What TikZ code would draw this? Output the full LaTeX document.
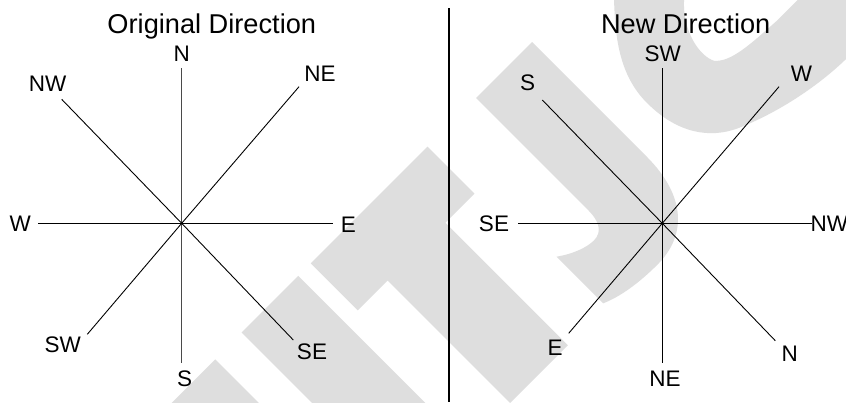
\documentclass[tikz,border=0pt]{standalone}
\usepackage{fontspec}
\setmainfont{Liberation Sans}
\definecolor{wmgrey}{HTML}{DEDEDE}
\definecolor{axisgrey}{HTML}{4A4A4A}
\begin{document}
\begin{tikzpicture}[x=1pt,y=-1pt,
  lbl/.style={font=\fontsize{22.5}{27}\selectfont, inner sep=0pt, anchor=base},
  ttl/.style={font=\fontsize{27.2}{32}\selectfont, inner sep=0pt, anchor=base},
  ray/.style={draw=black, line width=0.9pt},
  vray/.style={draw=axisgrey, line width=1.3pt},
  divider/.style={draw=black, line width=2pt},
  wm/.style={fill=wmgrey, draw=none}]
\useasboundingbox (0,0) rectangle (846,402);
\fill[white] (0,0) rectangle (846,402);
% watermark
\begin{scope}
\clip (0,0) rectangle (846,402);
\begin{scope}[x={(0.70711pt,0.70711pt)}, y={(-0.70711pt,0.70711pt)}]
% partial letter at far left
\fill[wm] (-400,-406.4) -- (-101.9,-406.4) -- (-101.9,-760) -- (-400,-760) -- cycle;
% stem
\fill[wm] (-64.3,-406) -- (15.8,-406) -- (15.8,-760) -- (-64.3,-760) -- cycle;
% T
\fill[wm] (33.5,-406) -- (198.6,-406) -- (198.6,-472.4) -- (157.4,-472.4) -- (157.4,-645.6)
  -- (75.7,-645.6) -- (75.7,-472.4) -- (33.5,-472.4) -- cycle;
% J
\fill[wm] (267.3,-406) -- (346.5,-406) -- (346.5,-568)
  .. controls (346.5,-625) and (318,-652) .. (278,-652)
  .. controls (250,-652) and (228,-648) .. (212,-641) -- (212,-575)
  .. controls (226,-585) and (240,-590) .. (250,-590)
  .. controls (262,-590) and (267.3,-580) .. (267.3,-565) -- cycle;
% C-like letter (lower-left part)
\fill[wm] (470,-400) -- (434.2,-434.2)
  .. controls (410,-460) and (384.7,-490) .. (384.7,-530)
  .. controls (384.7,-575) and (405,-600) .. (430,-612)
  .. controls (470,-630) and (520,-640) .. (560,-640)
  -- (640,-640) -- (640,-564) -- (535,-564)
  .. controls (500,-562) and (473,-561) .. (462,-548)
  .. controls (455,-535) and (460,-505) .. (483.7,-483.7)
  -- (520,-450) -- cycle;
\end{scope}
\end{scope}
% ---------- left compass ----------
\coordinate (c1) at (181.7,223.3);
\coordinate (n1) at (181.7,68.3);
\coordinate (s1) at (181.7,363.3);
\coordinate (w1) at (38.3,223.3);
\coordinate (e1) at (333.3,223.3);
\coordinate (nw1) at (61.7,99.3);
\coordinate (ne1) at (299,86.7);
\coordinate (sw1) at (87.3,334.3);
\coordinate (se1) at (293.3,340);
\draw[vray] (n1) -- (s1);
\draw[ray] (w1) -- (e1);
\draw[ray] (c1) -- (nw1);
\draw[ray] (c1) -- (ne1);
\draw[ray] (c1) -- (sw1);
\draw[ray] (c1) -- (se1);
\node[ttl] (t1) at (211.8,33.3) {Original Direction};
\node[lbl] (ln) at (181.7,61.7) {N};
\node[lbl] (lnw) at (47.5,91.7) {NW};
\node[lbl] (lne) at (320,81) {NE};
\node[lbl] (lw) at (20.3,231.7) {W};
\node[lbl] (le) at (348.3,232.7) {E};
\node[lbl] (lsw) at (62.7,352.7) {SW};
\node[lbl] (ls) at (184.7,386) {S};
\node[lbl] (lse) at (312,359.3) {SE};
% ---------- divider ----------
\coordinate (dtop) at (449.3,8.3);
\coordinate (dbot) at (449.3,402);
\draw[divider] (dtop) -- (dbot);
% ---------- right compass ----------
\coordinate (c2) at (662.3,223.3);
\coordinate (u2) at (662.3,68.3);
\coordinate (d2) at (662.3,363.3);
\coordinate (l2) at (518,223.3);
\coordinate (r2) at (812,223.3);
\coordinate (ul2) at (542.3,100);
\coordinate (ur2) at (779,86.7);
\coordinate (dl2) at (568.7,333.3);
\coordinate (dr2) at (775.3,340.7);
\draw[ray] (u2) -- (d2);
\draw[ray] (l2) -- (r2);
\draw[ray] (c2) -- (ul2);
\draw[ray] (c2) -- (ur2);
\draw[ray] (c2) -- (dl2);
\draw[ray] (c2) -- (dr2);
\node[ttl] (t2) at (685.7,33.3) {New Direction};
\node[lbl] (rsw) at (662.7,61.7) {SW};
\node[lbl] (rs) at (527.5,90.7) {S};
\node[lbl] (rw) at (801.5,81) {W};
\node[lbl] (rse) at (494,231.7) {SE};
\node[lbl, anchor=base west] (rnw) at (810.5,231.7) {NW};
\node[lbl] (re) at (555,355) {E};
\node[lbl] (rne) at (665,386.7) {NE};
\node[lbl] (rn) at (789.7,361.7) {N};
\end{tikzpicture}
\end{document}
